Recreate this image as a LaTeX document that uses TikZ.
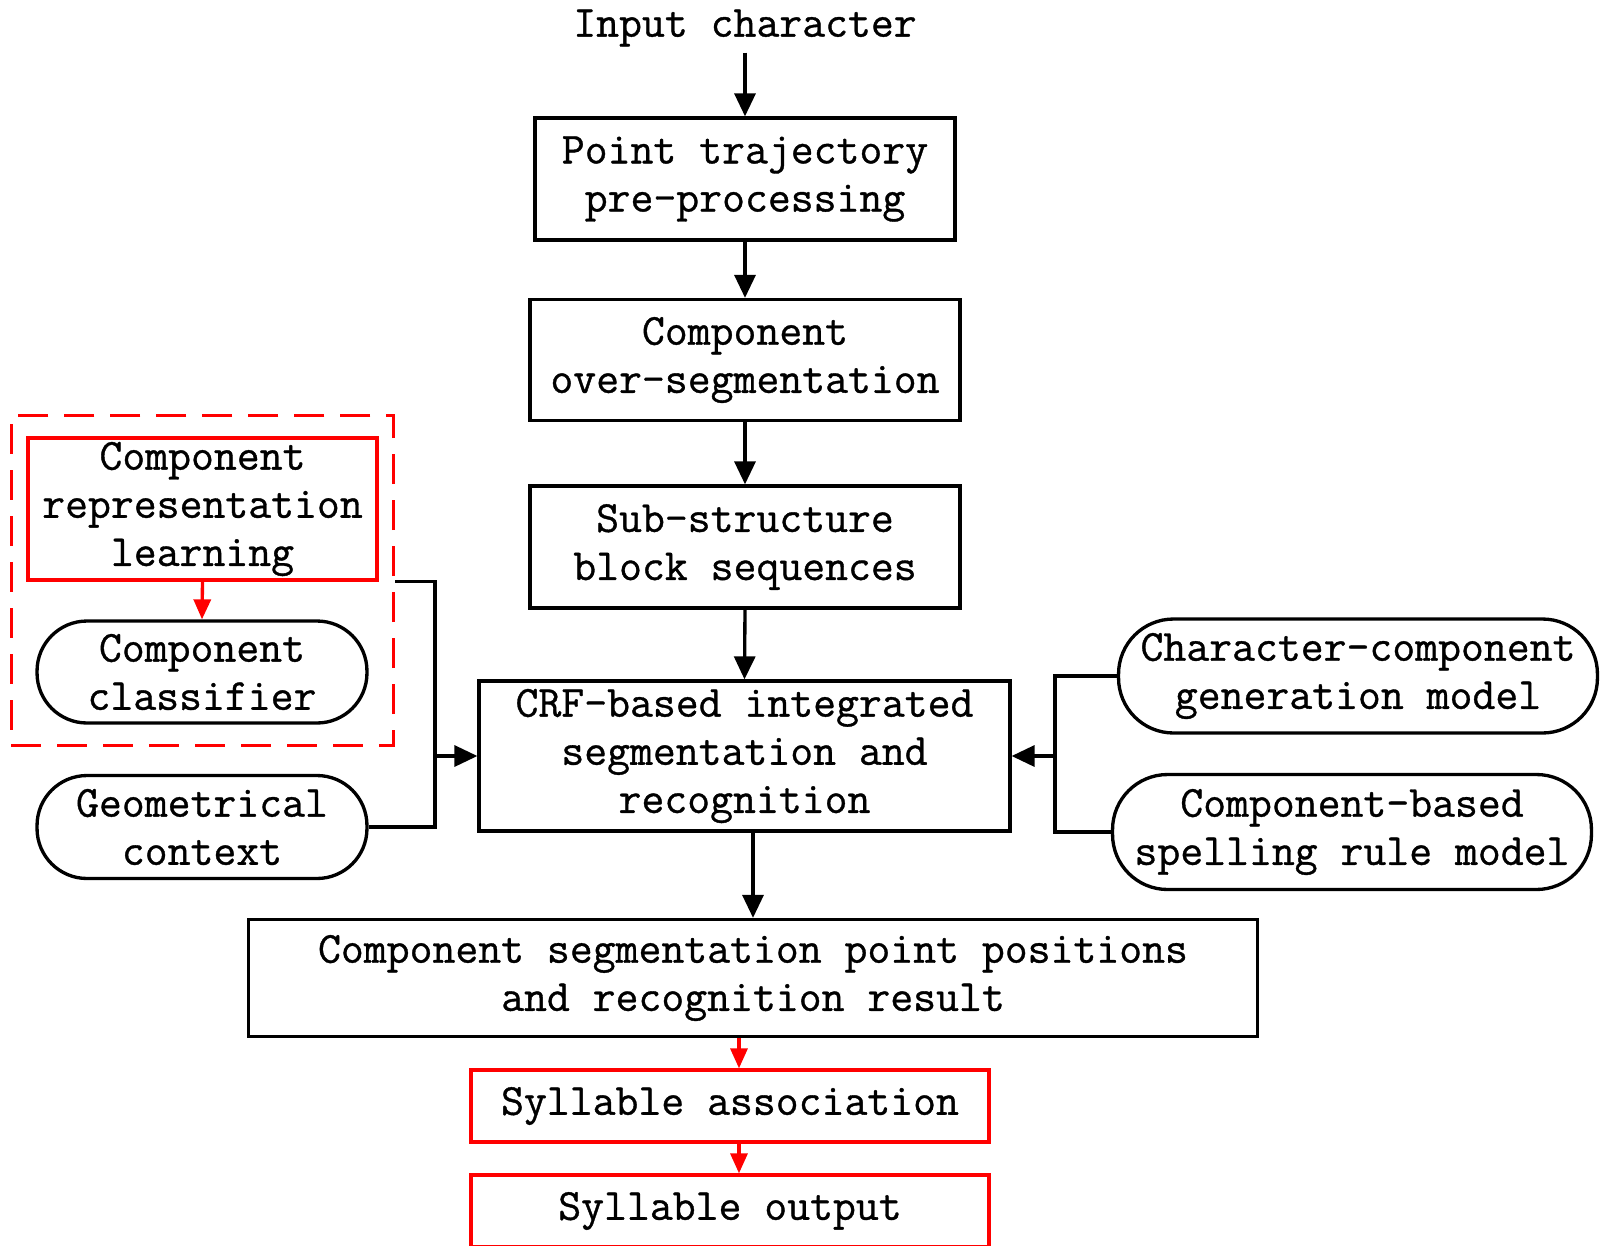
\documentclass[tikz,border=0pt]{standalone}
\usepackage{fontspec}
\newfontfamily\boxfont{Latin Modern Mono}[FakeBold=0.8]
\usepackage{tikz}
\usetikzlibrary{positioning,arrows.meta,fit,calc}

\begin{document}
\begin{tikzpicture}[x=0.02cm,y=-0.02cm]
          \useasboundingbox (0,0) rectangle (1606,1245);

          \tikzstyle{every node}=[font=\fontsize{25.3}{27.4}\selectfont\boxfont, align=center]
          \tikzstyle{box}=[draw, line width=1.9pt, inner sep=0pt]
          \tikzstyle{redbox}=[box, draw=red]
          \tikzstyle{pill}=[box, rounded corners=1cm]
          \tikzstyle{arr}=[line width=1.9pt, -{Triangle[length=0.46cm,width=0.42cm]}]
          \tikzstyle{redarr}=[arr, draw=red, fill=red, -{Triangle[length=0.4cm,width=0.34cm]}]
          \tikzstyle{line}=[line width=1.9pt]

          % main chain
          \node (in) at (745,28) {Input character};
          \node[box, minimum width=8.4cm, minimum height=2.44cm] (pt) at (745,179) {Point trajectory\\pre-processing};
          \node[box, minimum width=8.6cm, minimum height=2.42cm] (over) at (745,360) {Component\\over-segmentation};
          \node[box, minimum width=8.6cm, minimum height=2.44cm] (sub) at (745,547) {Sub-structure\\block sequences};
          \node[box, minimum width=10.62cm, minimum height=3cm] (crf) at (744.5,756) {CRF-based integrated\\segmentation and\\recognition};
          \node[box, minimum width=20.18cm, minimum height=2.34cm] (res) at (753,978) {Component segmentation point positions\\and recognition result};
          \node[redbox, minimum width=10.36cm, minimum height=1.44cm] (assoc) at (730,1106) {Syllable association};
          \node[redbox, minimum width=10.36cm, minimum height=1.44cm] (out) at (730,1211) {Syllable output};

          \draw[arr] (in.south) -- (pt.north);
          \draw[arr] (pt.south) -- (over.north);
          \draw[arr] (over.south) -- (sub.north);
          \draw[arr] (sub.south) -- (crf.north);
          \draw[arr] (crf.south -| res.north) -- (res.north);
          \draw[redarr] ([xshift=0.18cm]assoc.north |- res.south) -- ([xshift=0.18cm]assoc.north);
          \draw[redarr] ([xshift=0.18cm]assoc.south) -- ([xshift=0.18cm]out.north);

          % left side
          \node[redbox, minimum width=6.98cm, minimum height=2.84cm] (rep) at (202.5,509) {Component\\representation\\learning};
          \node[pill, minimum width=6.6cm, minimum height=2.04cm] (cls) at (202,672) {Component\\classifier};
          \node[pill, minimum width=6.6cm, minimum height=2.06cm] (geo) at (202,827) {Geometrical\\context};
          \node[fit=(rep)(cls), draw=red, line width=1.9pt, dash pattern=on 0.6cm off 0.32cm,
                inner xsep=0.3cm, inner ysep=0.42cm] (grp) {};
          \draw[redarr] (rep.south) -- (cls.north);

          \coordinate (lj) at (435,756);
          \draw[line] (grp.east |- rep.south) -| (lj) |- (geo.east);
          \draw[arr] (lj) -- (crf.west);

          % right side
          \node[pill, rounded corners=1.1cm, minimum width=9.58cm, minimum height=2.28cm] (char) at (1358,676) {Character-component\\generation model};
          \node[pill, rounded corners=1.1cm, minimum width=9.58cm, minimum height=2.3cm] (spell) at (1352,832) {Component-based\\spelling rule model};

          \coordinate (rj) at (1055,756);
          \draw[line] (char.west) -| (rj) |- (spell.west);
          \draw[arr] (rj) -- (crf.east);
\end{tikzpicture}
\end{document}
